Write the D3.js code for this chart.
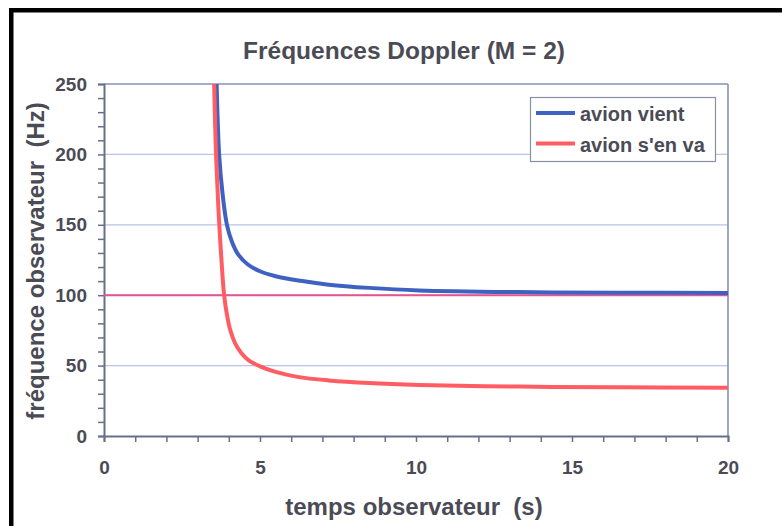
<!DOCTYPE html>
<html><head><meta charset="utf-8">
<script src="https://cdn.jsdelivr.net/npm/d3@7"></script>
<style>html,body{margin:0;padding:0;background:#fff;}svg{display:block;}</style>
</head><body>
<svg id="c" width="782" height="526"></svg>
<script>
const title = "Fréquences Doppler (M = 2)";
const xLabel = "temps observateur  (s)";
const yLabel = "fréquence observateur  (Hz)";
const seriesNames = ["avion vient", "avion s'en va"];
const xTicks = [0, 5, 10, 15, 20];
const yTicks = [0, 50, 100, 150, 200, 250];
const emittedFreq = 100;
// avion vient (approaching)
const tVient = [3.61, 3.69, 3.8, 3.94, 4.1, 4.3, 4.6, 5.0, 5.5, 6.3, 7.2, 8.5, 10.1, 13.3, 16.5, 20];
const fVient = [250, 200, 172, 150, 138, 129, 122, 117, 113.5, 110.2, 107.5, 105.2, 103.4, 102.2, 101.8, 101.5];
// avion s'en va (receding)
const tVa = [3.53, 3.59, 3.67, 3.75, 3.85, 3.95, 4.05, 4.2, 4.4, 4.65, 5.0, 5.5, 6.2, 7.2, 8.5, 10.1, 13.3, 16.5, 20];
const fVa = [250, 200, 160, 130, 100, 85, 75, 66, 59, 53.5, 49.5, 45.5, 42, 39.5, 37.6, 36.3, 35.1, 34.6, 34.3];

const svg = d3.select("#c");
const W = 782, H = 526;
const x = d3.scaleLinear().domain([0, 20]).range([104, 728]);
const y = d3.scaleLinear().domain([0, 250]).range([436, 84]);
const textCol = "#4b4b55";
const font = "'Liberation Sans', Arial, sans-serif";

// black frame
svg.append("rect").attr("x", 9).attr("y", 8).attr("width", W - 9).attr("height", 4.5).attr("fill", "#000");
svg.append("rect").attr("x", 9).attr("y", 8).attr("width", 4.5).attr("height", H - 8).attr("fill", "#000");

// gridlines
svg.append("g").selectAll("line").data(yTicks.filter(d => d > 0)).join("line")
  .attr("x1", x(0)).attr("x2", x(20)).attr("y1", d => y(d)).attr("y2", d => y(d))
  .attr("stroke", d => d === 250 ? "#8890b4" : "#b9c4e6").attr("stroke-width", d => d === 250 ? 1.6 : 1.2);
// right border
svg.append("line").attr("x1", x(20)).attr("x2", x(20)).attr("y1", y(250)).attr("y2", y(0))
  .attr("stroke", "#8890b4").attr("stroke-width", 1.6);

// axes
const yAxis = d3.axisLeft(y).tickValues(d3.range(0, 251, 10)).tickSize(6).tickFormat(d => yTicks.includes(d) ? d : "");
const gy = svg.append("g").attr("transform", `translate(${x(0)},0)`).call(yAxis);
gy.select(".domain").attr("stroke", "#6a6f88").attr("stroke-width", 2);
gy.selectAll(".tick line").attr("stroke", "#6a6f88").attr("stroke-width", 1.5);
gy.selectAll(".tick text").attr("x", -17).attr("fill", textCol).style("font", `bold 19px ${font}`);

const xAxis = d3.axisBottom(x).tickValues(d3.range(0, 21, 1)).tickSize(6).tickFormat(d => xTicks.includes(d) ? d : "");
const gx = svg.append("g").attr("transform", `translate(0,${y(0)})`).call(xAxis);
gx.select(".domain").attr("stroke", "#6a6f88").attr("stroke-width", 2);
gx.selectAll(".tick line").attr("stroke", "#6a6f88").attr("stroke-width", 1.5);
gx.selectAll(".tick text").attr("y", 25).attr("fill", textCol).style("font", `bold 19px ${font}`);

// reference line
svg.append("line").attr("x1", x(0)).attr("x2", x(20)).attr("y1", y(emittedFreq)).attr("y2", y(emittedFreq))
  .attr("stroke", "#e4558f").attr("stroke-width", 2);

const line = d3.line().x(d => x(d[0])).y(d => y(d[1])).curve(d3.curveCatmullRom.alpha(0.5));
svg.append("path").datum(tVient.map((t, i) => [t, fVient[i]])).attr("d", line)
  .attr("fill", "none").attr("stroke", "#3f62c2").attr("stroke-width", 4);
svg.append("path").datum(tVa.map((t, i) => [t, fVa[i]])).attr("d", line)
  .attr("fill", "none").attr("stroke", "#ff5d63").attr("stroke-width", 4);

// legend
svg.append("rect").attr("x", 530.5).attr("y", 97.5).attr("width", 185).attr("height", 64)
  .attr("fill", "#fff").attr("stroke", "#8a8fa4").attr("stroke-width", 1.2);
const legCols = ["#3f62c2", "#ff5d63"];
seriesNames.forEach((n, i) => {
  const ly = 113 + i * 30.5;
  svg.append("line").attr("x1", 536).attr("x2", 575).attr("y1", ly).attr("y2", ly)
    .attr("stroke", legCols[i]).attr("stroke-width", 4);
  svg.append("text").attr("x", 580).attr("y", ly + 8).attr("fill", textCol)
    .style("font", `bold 20px ${font}`).text(n);
});

// titles
svg.append("text").attr("x", 404).attr("y", 59).attr("text-anchor", "middle").attr("fill", textCol)
  .style("font", `bold 24.5px ${font}`).text(title);
svg.append("text").attr("x", 414).attr("y", 515).attr("text-anchor", "middle").attr("fill", textCol)
  .style("font", `bold 24px ${font}`).style("white-space", "pre").text(xLabel);
svg.append("text").attr("transform", "translate(44,261) rotate(-90)").attr("text-anchor", "middle").attr("fill", textCol)
  .style("font", `bold 24px ${font}`).style("white-space", "pre").text(yLabel);
</script>
</body></html>
